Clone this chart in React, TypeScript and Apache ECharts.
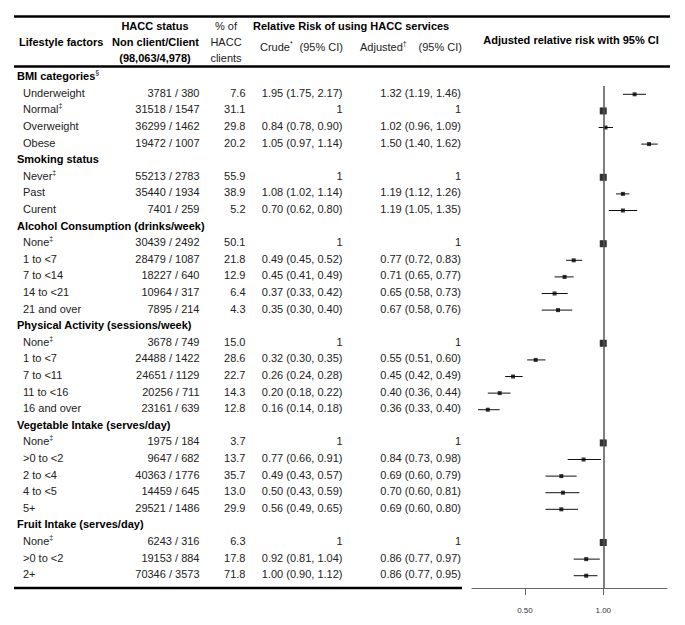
import React, { useEffect, useRef } from 'react';
import * as echarts from 'echarts';

const groupNames = [
  'BMI categories',
  'Smoking status',
  'Alcohol Consumption (drinks/week)',
  'Physical Activity (sessions/week)',
  'Vegetable Intake (serves/day)',
  'Fruit Intake (serves/day)',
];
const groupSups = ['§', '', '', '', '', ''];
const groupSizes = [4, 3, 5, 5, 5, 3];

const factorLabels = [
  'Underweight', 'Normal', 'Overweight', 'Obese',
  'Never', 'Past', 'Curent',
  'None', '1 to <7', '7 to <14', '14 to <21', '21 and over',
  'None', '1 to <7', '7 to <11', '11 to <16', '16 and over',
  'None', '>0 to <2', '2 to <4', '4 to <5', '5+',
  'None', '>0 to <2', '2+',
];
const isReference = [
  false, true, false, false,
  true, false, false,
  true, false, false, false, false,
  true, false, false, false, false,
  true, false, false, false, false,
  true, false, false,
];
const nonClients = [3781, 31518, 36299, 19472, 55213, 35440, 7401, 30439, 28479, 18227, 10964, 7895, 3678, 24488, 24651, 20256, 23161, 1975, 9647, 40363, 14459, 29521, 6243, 19153, 70346];
const clients = [380, 1547, 1462, 1007, 2783, 1934, 259, 2492, 1087, 640, 317, 214, 749, 1422, 1129, 711, 639, 184, 682, 1776, 645, 1486, 316, 884, 3573];
const pctClients = ['7.6', '31.1', '29.8', '20.2', '55.9', '38.9', '5.2', '50.1', '21.8', '12.9', '6.4', '4.3', '15.0', '28.6', '22.7', '14.3', '12.8', '3.7', '13.7', '35.7', '13.0', '29.9', '6.3', '17.8', '71.8'];
const crudeRR = [1.95, 1, 0.84, 1.05, 1, 1.08, 0.70, 1, 0.49, 0.45, 0.37, 0.35, 1, 0.32, 0.26, 0.20, 0.16, 1, 0.77, 0.49, 0.50, 0.56, 1, 0.92, 1.00];
const crudeLo = [1.75, null, 0.78, 0.97, null, 1.02, 0.62, null, 0.45, 0.41, 0.33, 0.30, null, 0.30, 0.24, 0.18, 0.14, null, 0.66, 0.43, 0.43, 0.49, null, 0.81, 0.90];
const crudeHi = [2.17, null, 0.90, 1.14, null, 1.14, 0.80, null, 0.52, 0.49, 0.42, 0.40, null, 0.35, 0.28, 0.22, 0.18, null, 0.91, 0.57, 0.59, 0.65, null, 1.04, 1.12];
const adjRR = [1.32, 1, 1.02, 1.50, 1, 1.19, 1.19, 1, 0.77, 0.71, 0.65, 0.67, 1, 0.55, 0.45, 0.40, 0.36, 1, 0.84, 0.69, 0.70, 0.69, 1, 0.86, 0.86];
const adjLo = [1.19, null, 0.96, 1.40, null, 1.12, 1.05, null, 0.72, 0.65, 0.58, 0.58, null, 0.51, 0.42, 0.36, 0.33, null, 0.73, 0.60, 0.60, 0.60, null, 0.77, 0.77];
const adjHi = [1.46, null, 1.09, 1.62, null, 1.26, 1.35, null, 0.83, 0.77, 0.73, 0.76, null, 0.60, 0.49, 0.44, 0.40, null, 0.98, 0.79, 0.81, 0.80, null, 0.97, 0.95];
const axisTickValues = [0.5, 1];

const FAMILY = '"Liberation Sans", Arial, sans-serif';
const BODY = '#222';

export default function App() {
  const ref = useRef<HTMLDivElement>(null);

  useEffect(() => {
    const chart = echarts.init(ref.current!, null, { renderer: 'svg' });

    const gridTop = 86;
    const gridBottomY = 588;
    const yMin = 0.5;
    const yMax = 30.74;
    const pitch = (gridBottomY - gridTop) / (yMax - yMin);
    const rowY = (k: number) => gridTop + (k - yMin) * pitch - 1.5;

    const fmt = (r: number, lo: number | null, hi: number | null, ref: boolean) =>
      ref ? '1' : `${r.toFixed(2)} (${(lo as number).toFixed(2)}, ${(hi as number).toFixed(2)})`;

    const graphics: any[] = [];
    const text = (x: number, y: number, t: string, align: string, bold = false, size = 11, fill?: string) => {
      graphics.push({
        type: 'text',
        x,
        y,
        silent: true,
        style: {
          text: t,
          fill: fill || (bold ? '#000' : BODY),
          font: `${bold ? 'bold ' : ''}${size}px ${FAMILY}`,
          align,
          verticalAlign: 'middle',
        },
      });
    };
    const supText = (x: number, y: number, base: string, sup: string, bold = false) => {
      const fill = bold ? '#000' : BODY;
      graphics.push({
        type: 'text',
        x,
        y,
        silent: true,
        style: {
          text: `{b|${base}}{s|${sup}}`,
          align: 'left',
          verticalAlign: 'middle',
          rich: {
            b: { fontSize: 11, fontFamily: FAMILY, fontWeight: bold ? 'bold' : 'normal', fill, lineHeight: 14 },
            s: { fontSize: 7, fontFamily: FAMILY, fontWeight: 'normal', fill, lineHeight: 8, verticalAlign: 'top' },
          },
        },
      });
    };
    const hline = (x1: number, x2: number, y: number, w: number) => {
      graphics.push({
        type: 'line',
        silent: true,
        shape: { x1, y1: y, x2, y2: y },
        style: { stroke: '#000', lineWidth: w },
      });
    };

    // rules
    hline(14, 670, 16.5, 2.5);
    hline(14, 670, 66.5, 2.5);
    hline(14, 462, 588, 2.5);

    // header
    text(19, 41.5, 'Lifestyle factors', 'left', true);
    text(155, 25.5, 'HACC status', 'center', true);
    text(155.5, 41.5, 'Non client/Client', 'center', true);
    text(155, 58, '(98,063/4,978)', 'center', true);
    text(226, 25.5, '% of', 'center');
    text(226, 42, 'HACC', 'center');
    text(226, 58, 'clients', 'center');
    text(253, 25.5, 'Relative Risk of using HACC services', 'left', true);
    supText(260, 46.5, 'Crude', '*');
    text(343, 46.5, '(95% CI)', 'right');
    supText(360, 46.5, 'Adjusted', '†');
    text(462, 46.5, '(95% CI)', 'right');
    text(571, 40, 'Adjusted relative risk with 95% CI', 'center', true);

    // rows
    const points: any[] = [];
    const cis: any[] = [];
    let k = 0;
    let fi = 0;
    groupNames.forEach((g, gi) => {
      const gy = rowY(k);
      if (groupSups[gi]) supText(17, gy, g, groupSups[gi], true);
      else text(17, gy, g, 'left', true);
      k++;
      for (let j = 0; j < groupSizes[gi]; j++) {
        const i = fi;
        const y = rowY(k);
        if (isReference[i]) supText(23, y, factorLabels[i], '‡');
        else text(23, y, factorLabels[i], 'left');
        text(199.5, y, `${nonClients[i]} / ${clients[i]}`, 'right');
        text(245.5, y, pctClients[i], 'right');
        text(342.5, y, fmt(crudeRR[i], crudeLo[i], crudeHi[i], isReference[i]), 'right');
        text(461, y, fmt(adjRR[i], adjLo[i], adjHi[i], isReference[i]), 'right');
        points.push({ value: [adjRR[i], k], ref: isReference[i] });
        if (!isReference[i]) cis.push([adjLo[i], adjHi[i], k]);
        fi++;
        k++;
      }
    });

    const option: any = {
      animation: false,
      grid: { left: 472, right: 18, top: gridTop, bottom: 625 - gridBottomY, containLabel: false },
      xAxis: {
        type: 'log',
        logBase: 2,
        min: 0.313,
        max: 1.758,
        axisLine: { show: true, lineStyle: { color: '#666', width: 1 } },
        axisTick: { show: true, customValues: axisTickValues, length: 7, lineStyle: { color: '#666' } },
        axisLabel: {
          customValues: axisTickValues,
          formatter: (v: number) => Number(v).toFixed(2),
          fontSize: 8,
          color: '#333',
          fontFamily: FAMILY,
          margin: 18,
        },
        splitLine: { show: false },
      },
      yAxis: { type: 'value', min: yMin, max: yMax, inverse: true, show: false },
      series: [
        {
          type: 'custom',
          silent: true,
          encode: { x: [0, 1], y: 2 },
          data: cis,
          renderItem: (_params: any, api: any) => {
            const p1 = api.coord([api.value(0), api.value(2)]);
            const p2 = api.coord([api.value(1), api.value(2)]);
            return {
              type: 'line',
              shape: { x1: p1[0], y1: p1[1], x2: p2[0], y2: p2[1] },
              style: { stroke: '#111', lineWidth: 1 },
            };
          },
          z: 3,
        },
        {
          type: 'scatter',
          silent: true,
          symbol: 'rect',
          symbolSize: (_v: any, p: any) => (p.data.ref ? 7 : 4),
          itemStyle: { color: '#000' },
          data: points,
          z: 4,
          markLine: {
            silent: true,
            symbol: ['none', 'none'],
            label: { show: false },
            lineStyle: { color: '#555', width: 1.5, type: 'solid' },
            data: [{ xAxis: 1 }],
          },
        },
      ],
      graphic: graphics,
    };

    chart.setOption(option);
    return () => chart.dispose();
  }, []);

  return (
    <div
      ref={ref}
      style={{ position: 'fixed', left: 0, top: 0, width: 685, height: 625, background: '#fff' }}
    />
  );
}
